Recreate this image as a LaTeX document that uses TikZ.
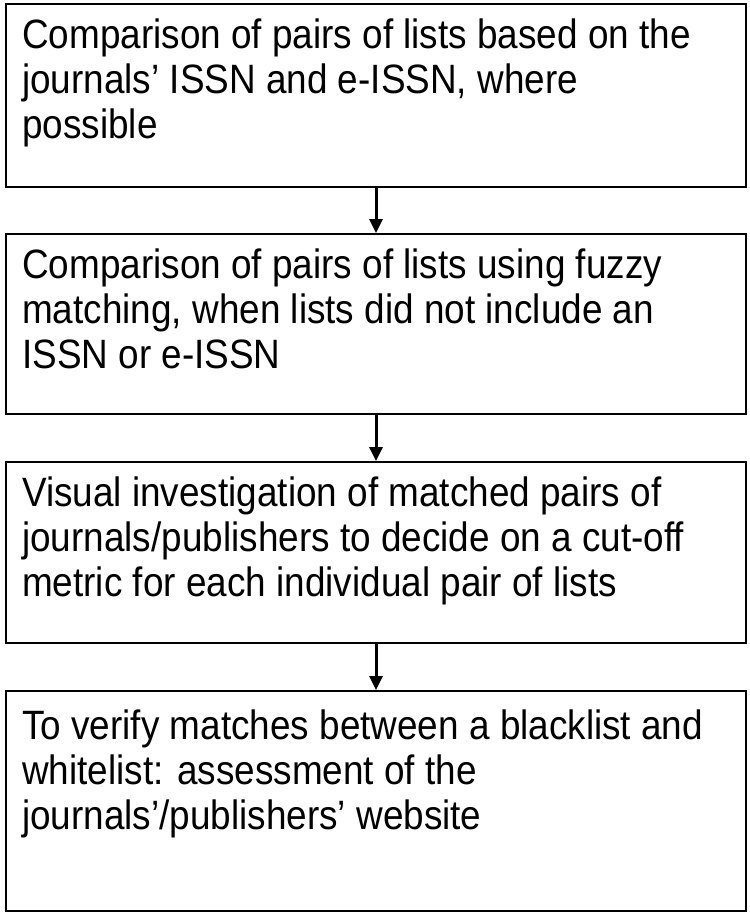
\documentclass[tikz,border=0pt]{standalone}
\usepackage{fontspec}
\setmainfont{Liberation Sans}[FakeStretch=0.9]
\usetikzlibrary{arrows.meta,positioning}
\begin{document}
\begin{tikzpicture}[
    x=1pt,y=-1pt,font=\fontsize{41}{45}\selectfont,
    stage/.style={draw=black,line width=2pt,minimum width=740pt,
      minimum height=#1,inner sep=0pt,anchor=north west},
    stage text/.style={anchor=north west,align=left,inner sep=0pt},
    flow/.style={-{Triangle[length=14pt,width=13pt]},line width=3pt}
  ]
    \useasboundingbox (0,0) rectangle (750,914);

    % The four steps of the matching, from top to bottom.
    \node[stage=183pt] (issn)   at (5,3)   {};
    \node[stage=180pt] (fuzzy)  at (5,233) {};
    \node[stage=181pt] (visual) at (5,461) {};
    \node[stage=220pt] (verify) at (5,690) {};

    % Texts sit near the top left of each box.
    \node[stage text] (issn text) at ([shift={(17,16)}]issn.north west)
      {Comparison of pairs of lists based on the\\
       journals’ ISSN and e-ISSN, where\\
       possible};
    \node[stage text] (fuzzy text) at ([shift={(17,16)}]fuzzy.north west)
      {Comparison of pairs of lists using fuzzy\\
       matching, when lists did not include an\\
       ISSN or e-ISSN};
    \node[stage text] (visual text) at ([shift={(17,16)}]visual.north west)
      {Visual investigation of matched pairs of\\
       journals/publishers to decide on a cut-off\\
       metric for each individual pair of lists};
    \node[stage text] (verify text) at ([shift={(17,20)}]verify.north west)
      {To verify matches between a blacklist and\\
       whitelist: assessment of the\\
       journals’/publishers’ website};

    % Arrows between the steps.
    \draw[flow] (issn.south)   -- (fuzzy.north);
    \draw[flow] (fuzzy.south)  -- (visual.north);
    \draw[flow] (visual.south) -- (verify.north);
  \end{tikzpicture}
\end{document}
